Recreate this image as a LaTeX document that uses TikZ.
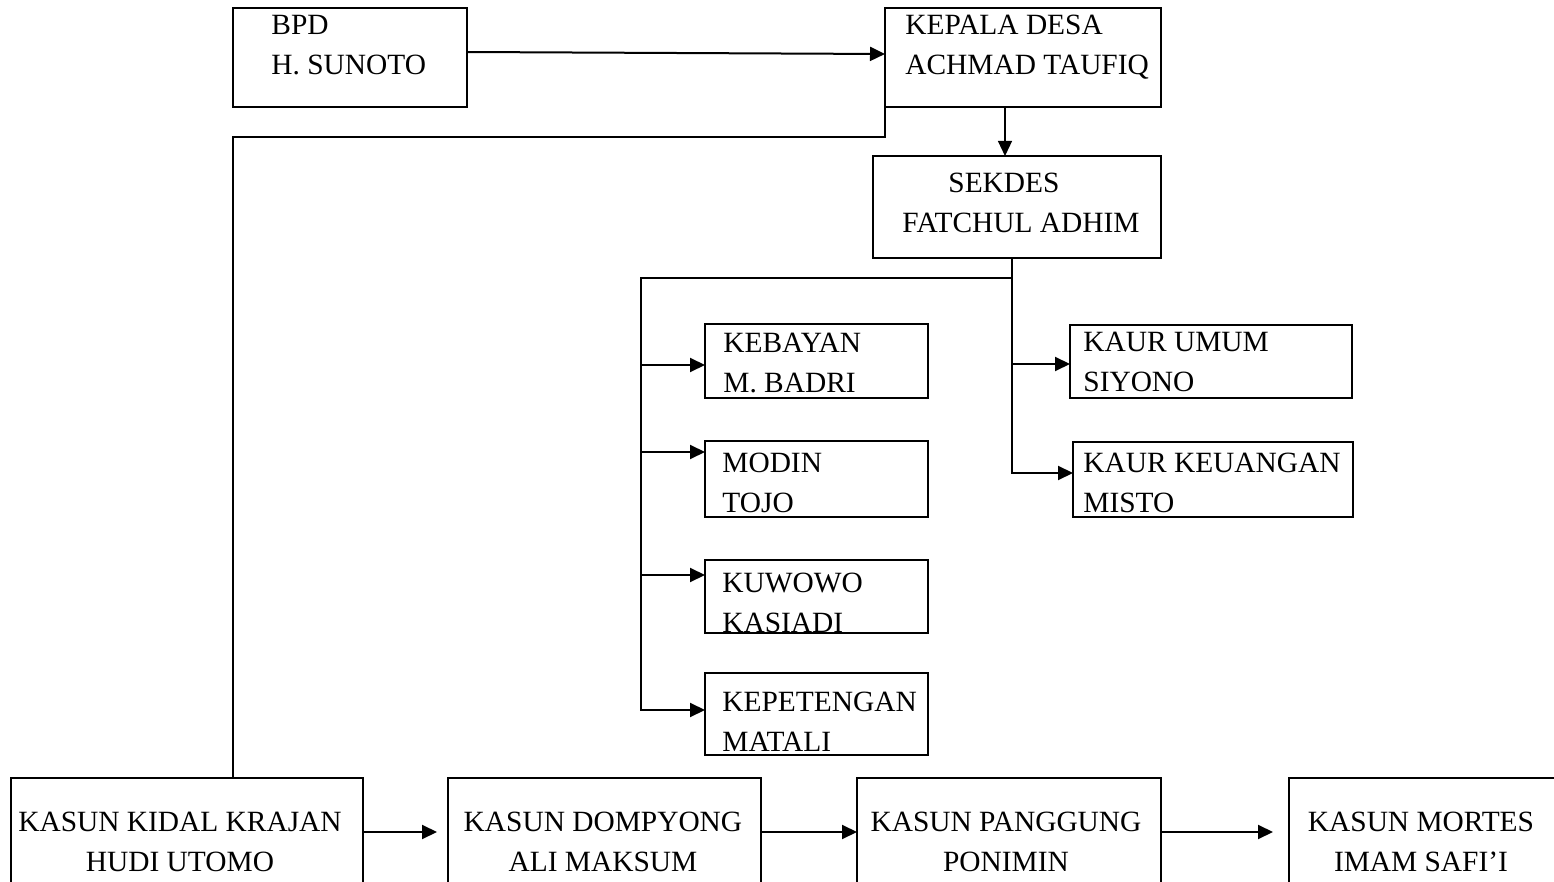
\documentclass[tikz,border=0pt]{standalone}
\usepackage{fontspec}
\setmainfont{Liberation Serif}
\usetikzlibrary{positioning, arrows.meta, calc}
\definecolor{cInk}{HTML}{000000}

\tikzset{
  box/.style 2 args={draw=cInk, line width=1pt, inner sep=0pt, outer sep=0pt,
    anchor=north west, minimum width=#1*0.5pt, minimum height=#2*0.5pt},
  txt/.style={font=\fontsize{14.7}{20}\selectfont, text=cInk, inner sep=0pt,
    anchor=base west, align=left},
  ctr/.style={txt, anchor=base, align=center},
  link/.style={draw=cInk, line width=1pt, -{Triangle[length=7.5pt, width=7pt]}},
  wire/.style={draw=cInk, line width=1pt},
}

\begin{document}
\begin{tikzpicture}[x=0.5pt, y=-0.5pt]
        \path[use as bounding box] (0,0) rectangle (1554,882);
        \clip (0,0) rectangle (1554,882);
        % top row (text anchored on its last line)
        \node[box={234}{99}] (bpd) at (233,8) {};
        \node[txt] (bpd-t) at (271,75) {BPD\\H. SUNOTO};
        \node[box={276}{99}] (kepala) at (885,8) {};
        \node[txt] (kepala-t) at (905,75) {KEPALA DESA\\ACHMAD TAUFIQ};
        \node[box={288}{102}] (sekdes) at (873,156) {};
        \node[txt] (sekdes-t) at (902,233) {\hspace{23pt}SEKDES\\FATCHUL ADHIM};
        % staff, left column
        \node[box={223}{74}] (kebayan) at (705,324) {};
        \node[txt] (kebayan-t) at (723,393) {KEBAYAN\\M. BADRI};
        \node[box={223}{76}] (modin) at (705,441) {};
        \node[txt] (modin-t) at (722,512) {MODIN\\TOJO};
        \node[box={223}{73}] (kuwowo) at (705,560) {};
        \node[txt] (kuwowo-t) at (722,632) {KUWOWO\\KASIADI};
        \node[box={223}{82}] (kepetengan) at (705,673) {};
        \node[txt] (kepetengan-t) at (722,751) {KEPETENGAN\\MATALI};
        % staff, right column
        \node[box={282}{73}] (umum) at (1070,325) {};
        \node[txt] (umum-t) at (1083,392) {KAUR UMUM\\SIYONO};
        \node[box={280}{75}] (keuangan) at (1073,442) {};
        \node[txt] (keuangan-t) at (1083,512) {KAUR KEUANGAN\\MISTO};
        % hamlet heads (bottom row, cut by the page edge)
        \node[box={352}{108}] (kasun1) at (11,778) {};
        \node[ctr] (kasun1-t) at (180,871) {KASUN KIDAL KRAJAN\\HUDI UTOMO};
        \node[box={313}{108}] (kasun2) at (448,778) {};
        \node[ctr] (kasun2-t) at (603,871) {KASUN DOMPYONG\\ALI MAKSUM};
        \node[box={304}{108}] (kasun3) at (857,778) {};
        \node[ctr] (kasun3-t) at (1006,871) {KASUN PANGGUNG\\PONIMIN};
        \node[box={281}{108}] (kasun4) at (1289,778) {};
        \node[ctr] (kasun4-t) at (1421,871) {KASUN MORTES\\IMAM SAFI’I};
        % connectors
        \draw[link] ([yshift=2.75pt]bpd.east) -- ([yshift=1.75pt]kepala.west);
        \draw[link, line width=0.6pt] ([xshift=-9pt]kepala.south)
          -- ([xshift=-9pt]kepala.south |- sekdes.north);
        \coordinate (turn) at (233,137);
        \draw[wire] (kepala.south west) |- (turn) -- (turn |- kasun1.north);
        \coordinate (stem) at ([xshift=-2.5pt]sekdes.south);
        \coordinate (lbus) at (641,278);
        \coordinate (umum-in) at ([yshift=-1.25pt]umum.west);
        \coordinate (keuangan-in) at ([yshift=3.25pt]keuangan.west);
        \foreach \n/\dy in {kebayan/-2pt, modin/13.5pt, kuwowo/10.75pt, kepetengan/2pt}
          \coordinate (\n-in) at ([yshift=\dy]\n.west);
        \draw[link] (stem |- lbus) -- (lbus) -- (lbus |- kepetengan-in) -- (kepetengan-in);
        \foreach \n in {kebayan, modin, kuwowo}
          \draw[link] (lbus |- \n-in) -- (\n-in);
        \draw[link] (stem) -- (stem |- keuangan-in) -- (keuangan-in);
        \draw[link] (stem |- umum-in) -- (umum-in);
        % hamlet chain
        \draw[link, shorten >=5.5pt] (kasun1.east) -- (kasun2.west);
        \draw[link] (kasun2.east) -- (kasun3.west);
        \draw[link, shorten >=8pt] (kasun3.east) -- (kasun4.west);
\end{tikzpicture}
\end{document}
